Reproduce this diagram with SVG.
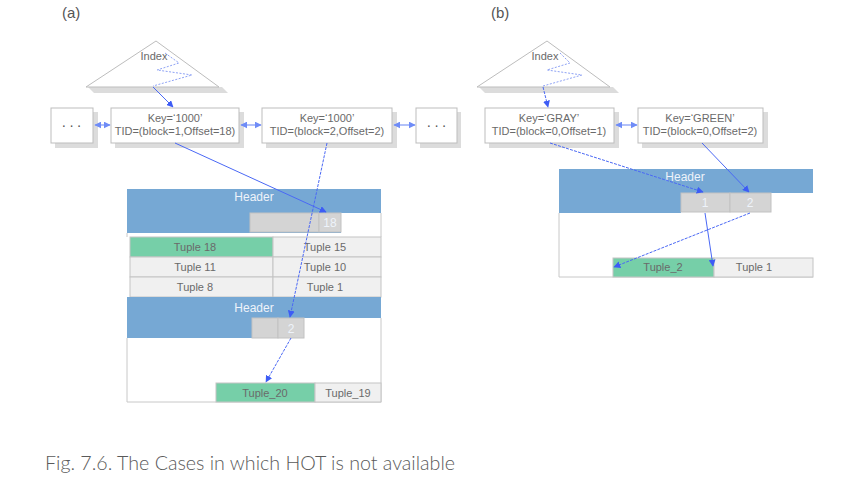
<svg xmlns="http://www.w3.org/2000/svg" width="859" height="477" viewBox="0 0 859 477">
<defs>
<marker id="ah" viewBox="0 0 10 10" refX="9" refY="5" markerWidth="7" markerHeight="7" orient="auto-start-reverse" markerUnits="userSpaceOnUse">
<path d="M0,0 L10,5 L0,10 z" fill="#3d5cf5"/>
</marker>
<marker id="ah2" viewBox="0 0 10 10" refX="9" refY="5" markerWidth="7" markerHeight="7" orient="auto-start-reverse" markerUnits="userSpaceOnUse">
<path d="M0,0 L10,5 L0,10 z" fill="#6f8cf7"/>
</marker>
</defs>
<style>
.lbl{font-family:"Liberation Sans",Arial,sans-serif;font-size:11px;fill:#6a6a6a;text-anchor:middle}
.dots{font-family:"Liberation Sans",Arial,sans-serif;font-size:14px;fill:#555;text-anchor:middle;letter-spacing:3px}
.hdr{font-family:"Liberation Sans",Arial,sans-serif;font-size:12px;fill:#eef3fa;text-anchor:middle}
.box{fill:#fff;stroke:#bdbdbd;stroke-width:1}
.shadow{fill:#dcdcdc}
.tri{fill:#fff;stroke:#bdbdbd;stroke-width:1}
.zig{fill:none;stroke:#8fa3f5;stroke-width:1;stroke-dasharray:2 1.5}
.blue{fill:#76a8d4}
.cell{fill:#d4d4d4;stroke:#c2c2c2;stroke-width:1}
.tup{fill:#f0f0f0;stroke:#c4c4c4;stroke-width:1}
.grn{fill:#76cfa8;stroke:#c4c4c4;stroke-width:1}
.edge{fill:none;stroke:#4a68f5;stroke-width:1;marker-end:url(#ah)}
.dash{stroke-dasharray:3 1.2}
.dbl{fill:none;stroke:#7f98f5;stroke-width:1.2;marker-start:url(#ah2);marker-end:url(#ah2)}
.pl{font-family:"Liberation Sans",Arial,sans-serif;font-size:15px;fill:#555}
.border{fill:none;stroke:#c8c8c8;stroke-width:1}
</style>
<rect width="859" height="477" fill="#fff"/>

<text class="pl" x="62" y="18">(a)</text>
<text class="pl" x="491" y="18">(b)</text>

<!-- Panel (a) -->
<g id="index-a">
<polygon class="shadow" points="88,87 222,87 228,93 94,93"/>
<polygon class="tri" points="156,41 86,87 219,87"/>
<text class="lbl" x="154" y="60">Index</text>
<polyline class="zig" points="165,53 179,63 157,70 192,75 153,86"/>
</g>
<g id="dots-a-left">
<rect class="shadow" x="55" y="112" width="43" height="36"/>
<rect class="box" x="51" y="108" width="42" height="35"/>
<text class="dots" x="73" y="130">···</text>
</g>
<g id="key-a1">
<rect class="shadow" x="115" y="112" width="129" height="36"/>
<rect class="box" x="111" y="108" width="128" height="35"/>
<text class="lbl" x="175" y="122">Key=‘1000’</text>
<text class="lbl" x="175" y="135">TID=(block=1,Offset=18)</text>
</g>
<g id="key-a2">
<rect class="shadow" x="266" y="112" width="131" height="36"/>
<rect class="box" x="262" y="108" width="130" height="35"/>
<text class="lbl" x="327" y="122">Key=‘1000’</text>
<text class="lbl" x="327" y="135">TID=(block=2,Offset=2)</text>
</g>
<g id="dots-a-right">
<rect class="shadow" x="420" y="112" width="41" height="36"/>
<rect class="box" x="416" y="108" width="41" height="35"/>
<text class="dots" x="438" y="130">···</text>
</g>

<g id="page-a1">
<rect class="blue" x="127" y="189" width="254" height="44"/>
<rect fill="#fff" x="341" y="213" width="40" height="20"/>
<rect class="cell" x="250" y="213" width="69" height="19"/>
<rect class="cell" x="319" y="213" width="22" height="19"/>
<text class="hdr" x="254" y="201">Header</text>
<text class="hdr" x="330" y="227">18</text>
<line class="border" x1="381" y1="213" x2="381" y2="237"/>
<line class="border" x1="127" y1="233" x2="127" y2="237"/>
<rect class="grn" x="130" y="237" width="143" height="20"/>
<rect class="tup" x="273" y="237" width="108" height="20"/>
<rect class="tup" x="130" y="257" width="143" height="20"/>
<rect class="tup" x="273" y="257" width="108" height="20"/>
<rect class="tup" x="130" y="277" width="143" height="20"/>
<rect class="tup" x="273" y="277" width="108" height="20"/>
<text class="lbl" x="195" y="251">Tuple 18</text>
<text class="lbl" x="325" y="251">Tuple 15</text>
<text class="lbl" x="195" y="271">Tuple 11</text>
<text class="lbl" x="325" y="271">Tuple 10</text>
<text class="lbl" x="195" y="291">Tuple 8</text>
<text class="lbl" x="325" y="291">Tuple 1</text>
</g>
<g id="page-a2">
<rect class="blue" x="127" y="297" width="254" height="21"/>
<rect class="blue" x="127" y="318" width="125" height="20"/>
<rect class="cell" x="252" y="318" width="26" height="20"/>
<rect class="cell" x="278" y="318" width="26" height="20"/>
<text class="hdr" x="254" y="312">Header</text>
<text class="hdr" x="291" y="333">2</text>
<polyline class="border" points="127,338 127,402 381,402 381,318"/>
<rect class="grn" x="216" y="383" width="99" height="19"/>
<rect class="tup" x="315" y="383" width="66" height="19"/>
<text class="lbl" x="265" y="397">Tuple_20</text>
<text class="lbl" x="348" y="397">Tuple_19</text>
</g>

<!-- Panel (b) -->
<g id="index-b">
<polygon class="shadow" points="479,87 613,87 619,93 485,93"/>
<polygon class="tri" points="547,41 477,87 610,87"/>
<text class="lbl" x="545" y="60">Index</text>
<polyline class="zig" points="560,53 570,63 547,70 582,75 543,86"/>
</g>
<g id="key-gray">
<rect class="shadow" x="489" y="112" width="130" height="36"/>
<rect class="box" x="485" y="108" width="129" height="35"/>
<text class="lbl" x="549" y="122">Key=‘GRAY’</text>
<text class="lbl" x="549" y="135">TID=(block=0,Offset=1)</text>
</g>
<g id="key-green">
<rect class="shadow" x="642" y="112" width="126" height="36"/>
<rect class="box" x="638" y="108" width="125" height="35"/>
<text class="lbl" x="700" y="122">Key=‘GREEN’</text>
<text class="lbl" x="700" y="135">TID=(block=0,Offset=2)</text>
</g>
<g id="page-b">
<rect class="blue" x="559" y="169" width="254" height="24"/>
<rect class="blue" x="559" y="193" width="122" height="20"/>
<rect class="cell" x="681" y="193" width="49" height="19"/>
<rect class="cell" x="730" y="193" width="41" height="19"/>
<text class="hdr" x="685" y="181">Header</text>
<text class="hdr" x="705" y="207">1</text>
<text class="hdr" x="750" y="207">2</text>
<polyline class="border" points="559,213 559,277 813,277"/>
<rect class="grn" x="613" y="258" width="101" height="19"/>
<rect class="tup" x="714" y="258" width="99" height="19"/>
<text class="lbl" x="663" y="271">Tuple_2</text>
<text class="lbl" x="754" y="271">Tuple 1</text>
</g>

<g id="connectors">
<line class="edge" x1="153" y1="87" x2="173" y2="107"/>
<line class="dbl" x1="95" y1="125" x2="110" y2="125"/>
<line class="dbl" x1="241" y1="125" x2="261" y2="125"/>
<line class="dbl" x1="394" y1="125" x2="415" y2="125"/>
<line class="edge" x1="175" y1="143" x2="326" y2="212"/>
<line class="edge dash" x1="327" y1="143" x2="290" y2="317"/>
<line class="edge dash" x1="291" y1="338" x2="266" y2="382"/>

<line class="edge dash" x1="543" y1="87" x2="548" y2="107"/>
<line class="dbl" x1="616" y1="125" x2="637" y2="125"/>
<line class="edge dash" x1="550" y1="143" x2="703" y2="192"/>
<line class="edge" x1="702" y1="143" x2="749" y2="192"/>
<line class="edge" x1="705" y1="213" x2="713" y2="266"/>
<line class="edge dash" x1="750" y1="213" x2="614" y2="267"/>
</g>

<text x="45" y="470" font-family="Lato,'Open Sans',sans-serif" font-weight="300" font-size="19.5" fill="#5a5a5a" textLength="410" lengthAdjust="spacingAndGlyphs">Fig. 7.6. The Cases in which HOT is not available</text>
</svg>
